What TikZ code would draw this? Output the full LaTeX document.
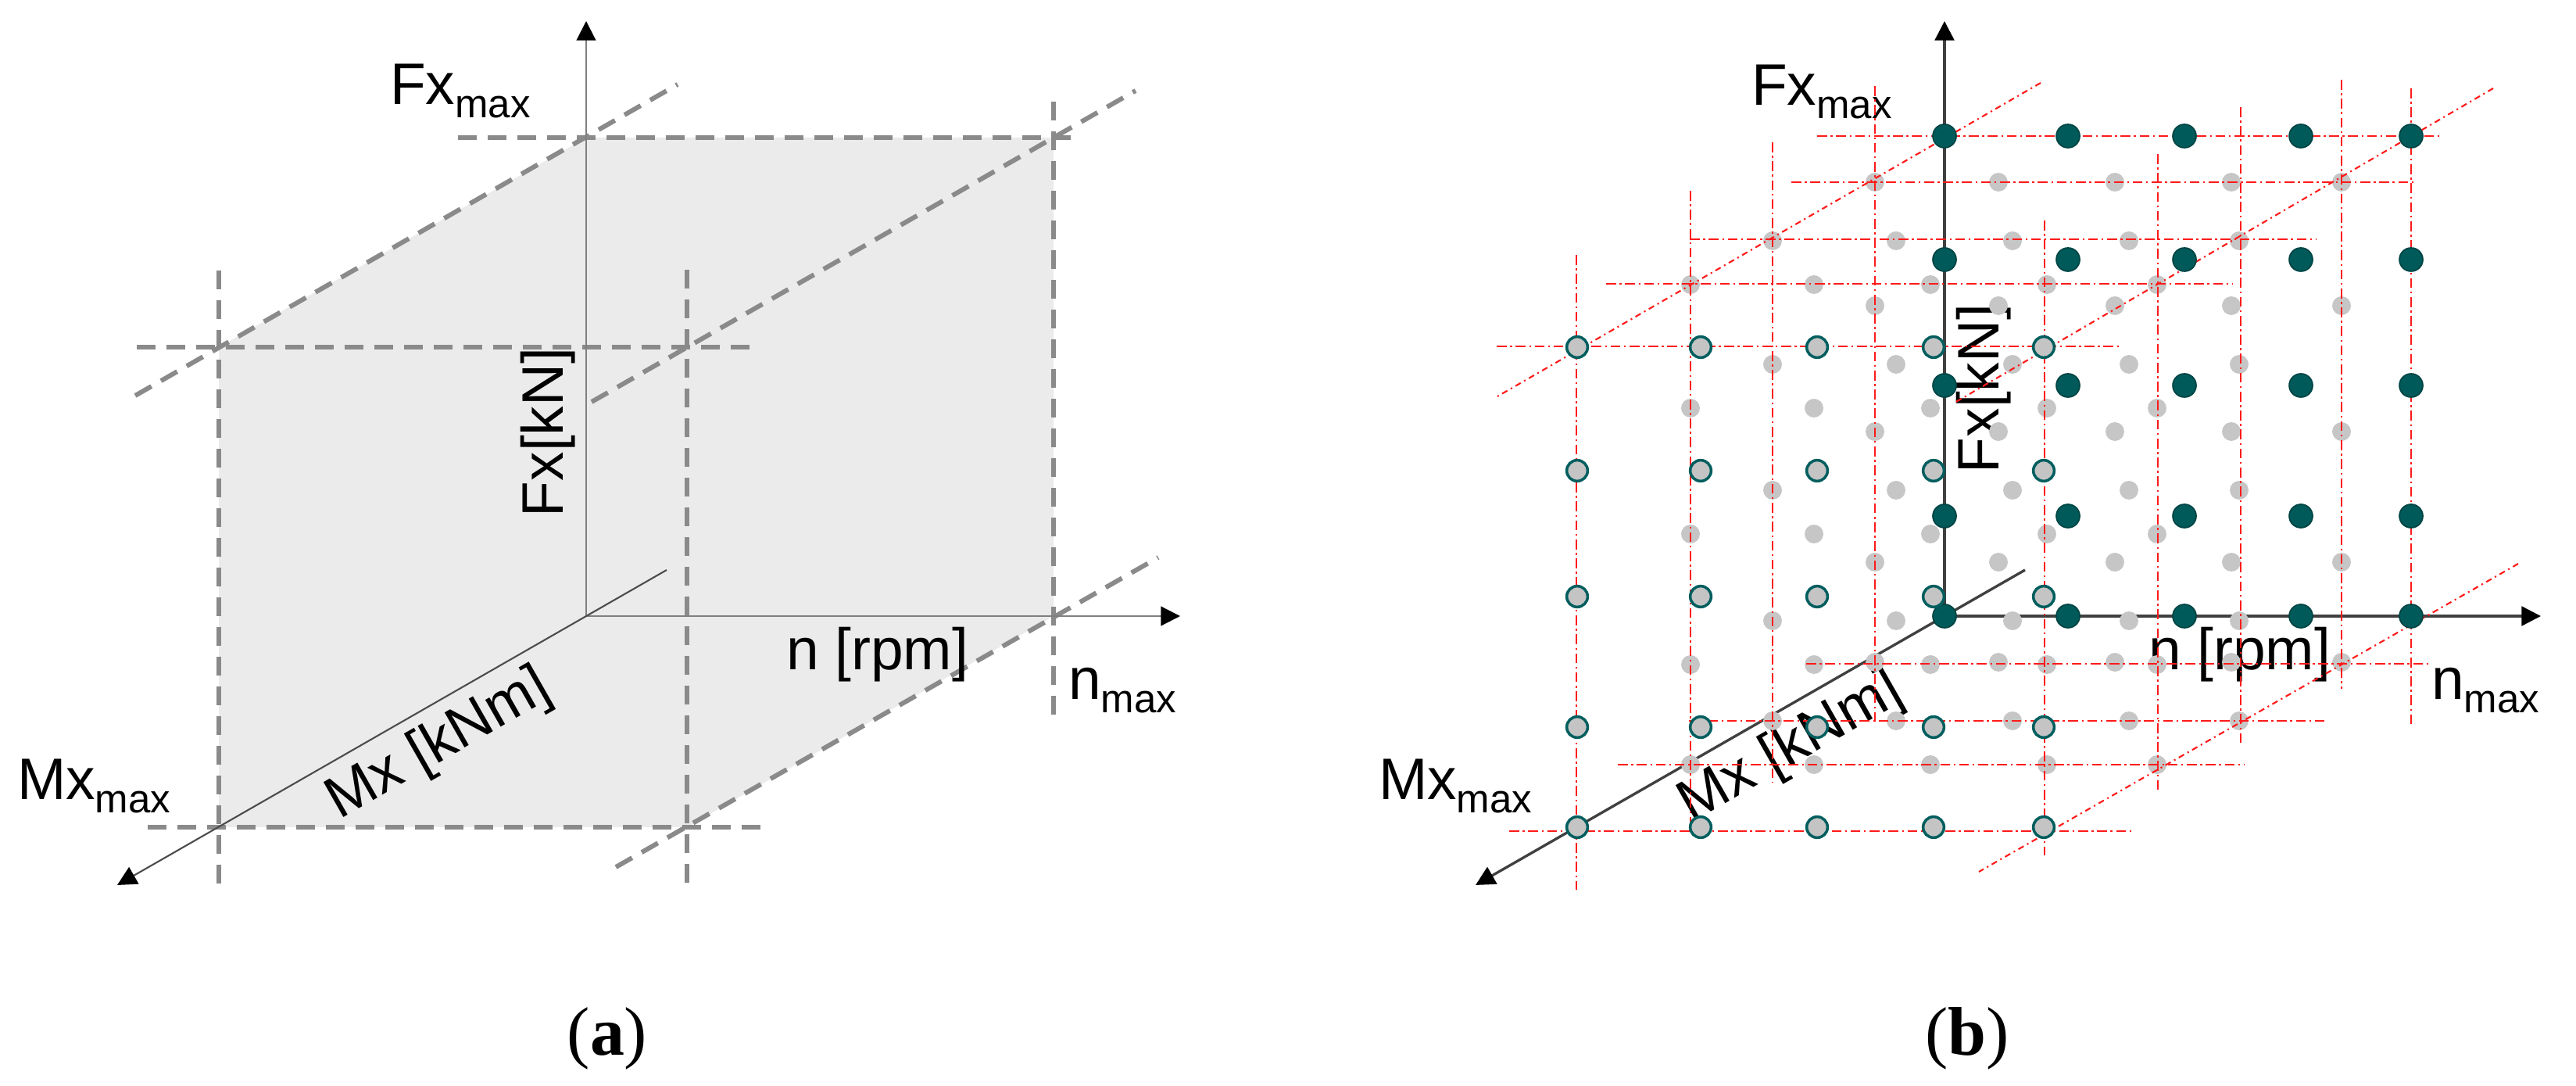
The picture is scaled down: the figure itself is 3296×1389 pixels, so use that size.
\documentclass[tikz,border=0pt]{standalone}
\usepackage{fontspec}
\setmainfont{Liberation Serif}
\newfontfamily\arialf{Liberation Sans}
\usetikzlibrary{arrows.meta}
\definecolor{tealdot}{HTML}{005A5A}
\definecolor{tealedge}{HTML}{004444}
\definecolor{ringedge}{HTML}{005E5E}
\definecolor{ringfill}{HTML}{C4C4C4}
\definecolor{midgray}{HTML}{C6C6C6}
\definecolor{boxfill}{HTML}{EBEBEB}
\definecolor{dashgray}{HTML}{8A8A8A}
\definecolor{gridred}{HTML}{FF1A1A}
\newcommand\submax{\raisebox{-4.8pt}{\fontsize{14.5pt}{16pt}\selectfont max}}
\begin{document}
\begin{tikzpicture}[x=0.01cm,y=-0.01cm,
  lbl/.style={font={\arialf\fontsize{21.3pt}{24pt}\selectfont}, inner sep=0pt, outer sep=0pt},
  captxt/.style={font={\fontsize{25pt}{30pt}\selectfont}, inner sep=0pt},
  boxdash/.style={draw=dashgray, line width=1.7pt, dash pattern=on 6.8pt off 4pt},
  axisA/.style={draw=black!50, line width=0.6pt},
  axisAm/.style={draw=black!70, line width=0.6pt},
  axisB/.style={draw=black!75, line width=0.95pt},
  tip/.style={-{Triangle[length=7pt,width=7pt,color=black]}},
  gridline/.style={draw=gridred, line width=0.75pt, dash pattern=on 3.6pt off 1.3pt on 0.7pt off 1.3pt},
  diagline/.style={draw=gridred, line width=0.6pt, dash pattern=on 2.2pt off 1.4pt on 0.6pt off 1.4pt},
  backdot/.style={circle, fill=tealdot, draw=tealedge, line width=0.5pt, minimum size=8.5pt, inner sep=0pt},
  middot/.style={circle, fill=midgray, minimum size=6.8pt, inner sep=0pt},
  ringdot/.style={circle, fill=ringfill, draw=ringedge, line width=1pt, minimum size=7.6pt, inner sep=0pt}
]
\useasboundingbox[fill=white] (0,0) rectangle (3296,1389);

% ---------------- panel (a) ----------------
\begin{scope}
\coordinate (aO) at (750,788);
\coordinate (aBTL) at (750,176);
\coordinate (aBTR) at (1348,176);
\coordinate (aBBR) at (1348,788);
\coordinate (aFTL) at (280,444);
\coordinate (aFBL) at (280,1058);
\coordinate (aFBR) at (879,1058);
\coordinate (aFtip) at (750,27);
\coordinate (aNtip) at (1510,788);
\coordinate (aMstart) at (853,729);
\coordinate (aMtip) at (150,1132);
\fill[boxfill] (aFTL) -- (aBTL) -- (aBTR) -- (aBBR) -- (aFBR) -- (aFBL) -- cycle;
% dashed box lines
\draw[boxdash] (586,176) -- (1378,176);
\draw[boxdash] (175,444) -- (968,444);
\draw[boxdash] (189,1058) -- (984,1058);
\draw[boxdash] (280,346) -- (280,1138);
\draw[boxdash] (879,345) -- (879,1135);
\draw[boxdash] (1348,130) -- (1348,926);
\draw[boxdash] (173,506) -- (867,108);
\draw[boxdash] (757,514) -- (1453,116);
\draw[boxdash] (788,1109) -- (1482,713);
% axes
\draw[axisA, tip] (aO) -- (aFtip);
\draw[axisA, tip] (aO) -- (aNtip);
\draw[axisAm, tip] (aMstart) -- (aMtip);
% labels
\node[lbl, anchor=base west] (aFmax) at (499,134) {Fx\submax};
\node[lbl, anchor=base west] (anmax) at (1367,895) {n\submax};
\node[lbl, anchor=base west] (aMmax) at (22,1023) {Mx\submax};
\node[lbl, anchor=base west] (anrpm) at (1006,857) {n [rpm]};
\node[lbl, rotate=90] (aFkN) at (701,553) {Fx[kN]};
\node[lbl, rotate=29.7] (aMkNm) at (562,953) {Mx [kNm]};
\node[captxt] (capa) at (777,1328) {(\textbf{a})};
\end{scope}

% ---------------- panel (b) ----------------
\begin{scope}[shift={(1738,0)}]
\coordinate (bO) at (750,788);
\coordinate (bFtip) at (750,27);
\coordinate (bNtip) at (1513,788);
\coordinate (bMstart) at (853,729);
\coordinate (bMtip) at (150,1132);
% labels
\node[lbl, anchor=base west] (bFmax) at (503,135) {Fx\submax};
\node[lbl, anchor=base west] (bnmax) at (1373,895) {n\submax};
\node[lbl, anchor=base west] (bMmax) at (26,1023) {Mx\submax};
\node[lbl, anchor=base west] (bnrpm) at (1011,857) {n [rpm]};
\node[lbl, rotate=90] (bFkN) at (800,497) {Fx[kN]};
\node[lbl, rotate=29.7] (bMkNm) at (554,957) {Mx [kNm]};
% axes
\draw[axisB, tip] (bO) -- (bFtip);
\draw[axisB, tip] (bO) -- (bNtip);
\draw[axisB, tip] (bMstart) -- (bMtip);
% intermediate layers (grey dots)
\foreach \c [count=\i] in {750,908,1057,1206,1347}{
  \foreach \r [count=\j] in {174,332,493,660,788}{
    \node[middot] (bA\i\j) at ({\c-89},{\r+59}) {};
    \node[middot] (bB\i\j) at ({\c-220},{\r+134}) {};
    \node[middot] (bC\i\j) at ({\c-325},{\r+190}) {};
  }}
% red grid lines: horizontals
\draw[gridline] (587,174) -- (1387,174);
\draw[gridline] (554,233) -- (1352,233);
\draw[gridline] (424,306) -- (1225,306);
\draw[gridline] (317,363) -- (1118,363);
\draw[gridline] (177,443) -- (977,443);
\draw[gridline] (573,849) -- (1371,849);
\draw[gridline] (423,922) -- (1238,922);
\draw[gridline] (332,978) -- (1133,978);
\draw[gridline] (193,1063) -- (993,1063);
% verticals
\draw[gridline] (1347,113) -- (1347,928);
\draw[gridline] (661,110) -- (661,923);
\draw[gridline] (1258,102) -- (1258,881);
\draw[gridline] (530,182) -- (530,1000);
\draw[gridline] (1129,137) -- (1129,952);
\draw[gridline] (425,244) -- (425,1058);
\draw[gridline] (1023,197) -- (1023,1010);
\draw[gridline] (279,326) -- (279,1138);
\draw[gridline] (878,282) -- (878,1094);
% diagonals
\draw[diagline] (873,106) -- (178,507);
\draw[diagline] (1452,113) -- (763,515);
\draw[diagline] (1484,721) -- (794,1115);
% front face (rings) and back face (teal dots)
\foreach \c [count=\i] in {750,908,1057,1206,1347}{
  \foreach \r [count=\j] in {174,332,493,660,788}{
    \node[ringdot] (bF\i\j) at ({\c-470},{\r+270}) {};
    \node[backdot] (bK\i\j) at (\c,\r) {};
  }}
\node[captxt] (capb) at (779,1328) {(\textbf{b})};
\end{scope}
\end{tikzpicture}
\end{document}
